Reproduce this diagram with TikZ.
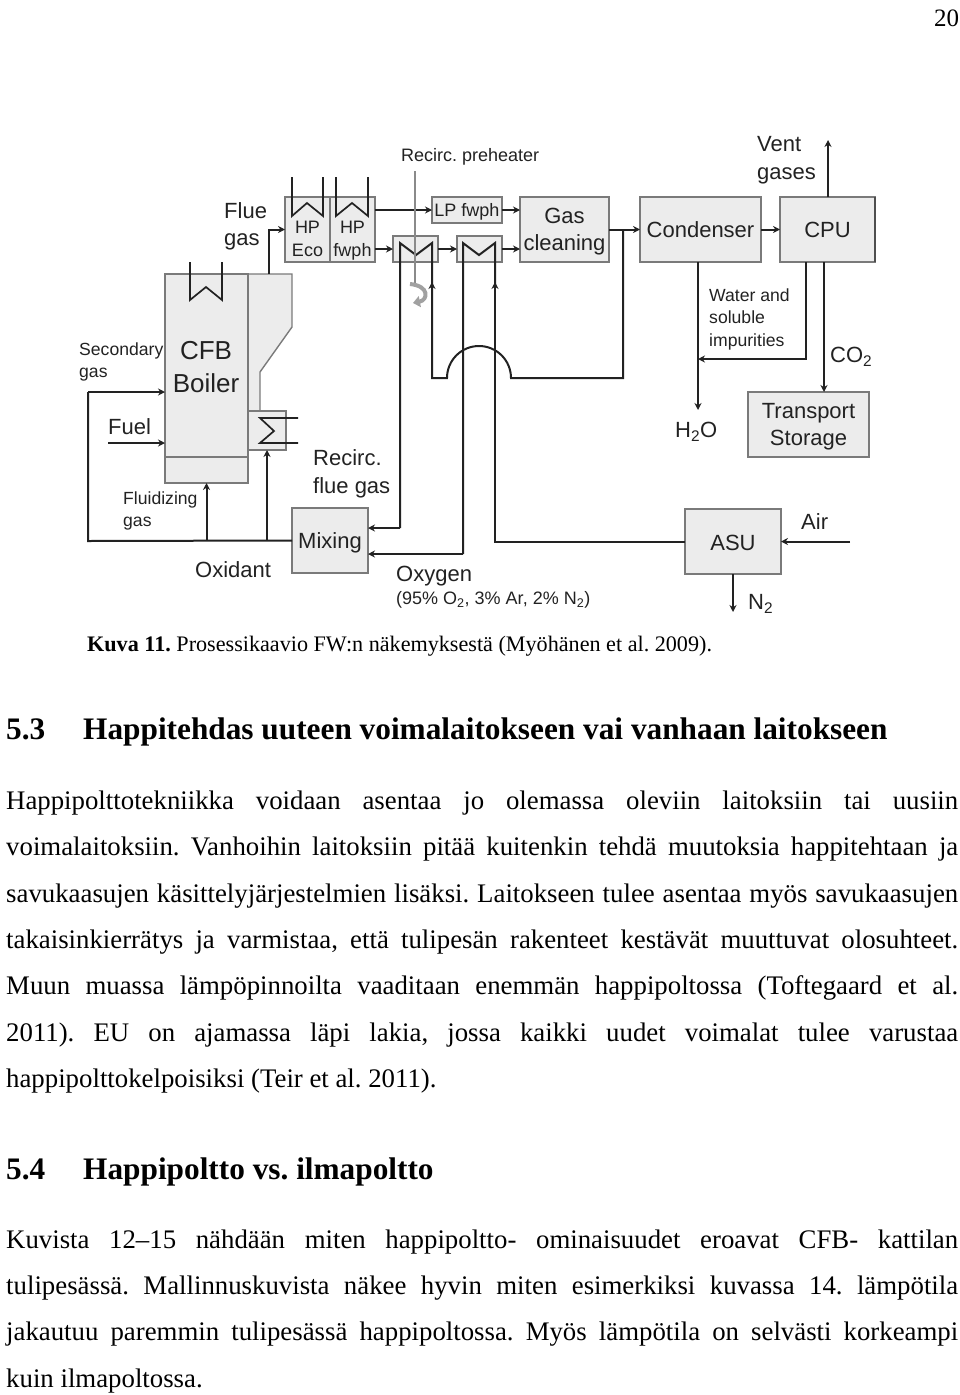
\documentclass[tikz,border=0pt]{standalone}
\usepackage{fontspec}
\setmainfont{Liberation Serif}
\newfontfamily\diagfont{Liberation Sans}
\usepackage{xcolor}
\definecolor{cInk}{HTML}{222222}
\definecolor{cFill}{HTML}{ECECEC}
\definecolor{cEdge}{HTML}{7A7A7A}
\definecolor{cThin}{HTML}{8A8A8A}
\usetikzlibrary{positioning,arrows.meta,calc}
\newcommand{\bodyline}[1]{\hbox to 952pt{#1}}
\frenchspacing
\tikzset{
  node-box/.style={draw=cEdge,line width=1.4pt,fill=cFill,inner sep=0pt,outer sep=0pt,
    align=center,text=cInk,font=\diagfont\fontsize{22}{27}\selectfont},
  label-big/.style={anchor=west,inner sep=0pt,align=left,text=cInk,
    font=\diagfont\fontsize{22}{27.5}\selectfont},
  label-small/.style={anchor=west,inner sep=0pt,align=left,text=cInk,
    font=\diagfont\fontsize{17.6}{22.5}\selectfont},
  label-mid/.style={inner sep=0pt,align=center,text=cInk,
    font=\diagfont\fontsize{22}{27}\selectfont},
  label-hp/.style={inner sep=0pt,align=center,text=cInk,
    font=\diagfont\fontsize{18}{23}\selectfont},
  text-line/.style={anchor=base west,inner sep=0pt,font=\fontsize{26.8}{30}\selectfont},
  text-head/.style={anchor=base west,inner sep=0pt,font=\bfseries\fontsize{31.3}{36}\selectfont},
  pipe/.style={line width=2pt,draw=cInk},
  arrow/.style={-{Stealth[length=7pt,width=7pt]},line width=2pt,draw=cInk},
  coil/.style={line width=1.7pt,draw=cInk},
  thin-line/.style={line width=1.3pt,draw=cThin},
}
\begin{document}
\begin{tikzpicture}[x=1pt,y=-1pt]
  \useasboundingbox (0,0) rectangle (960,1395);
  % furnace and second pass
  \draw[draw=cEdge,line width=1.4pt,fill=cFill] (248,274) -- (292,274) -- (292,327) -- (260,372)
    -- (260,411) -- (248,411) -- cycle;
  \node[node-box,minimum width=83pt,minimum height=209pt] (boiler) at (206.5,378.5) {};
  \draw[draw=cEdge,line width=1.4pt] (165,457) -- (248,457);
  \node[node-box,minimum width=38pt,minimum height=39pt]  (hxbox)  at (267,430.5) {};
  \node[node-box,minimum width=45pt,minimum height=65pt]  (hpeco)  at (307.5,229.5) {};
  \node[node-box,minimum width=45pt,minimum height=65pt]  (hpfwph) at (352.5,229.5) {};
  \node[node-box,minimum width=70pt,minimum height=26pt]  (lpfwph) at (467,210) {};
  \node[node-box,minimum width=45pt,minimum height=26pt]  (rph)    at (415.5,249) {};
  \node[node-box,minimum width=45pt,minimum height=26pt]  (lph)    at (479.5,249) {};
  \node[node-box,minimum width=89pt,minimum height=65pt]  (gascl)  at (564.5,229.5) {};
  \node[node-box,minimum width=121pt,minimum height=65pt] (cond)   at (700.5,229.5) {Condenser};
  \node[node-box,minimum width=95pt,minimum height=65pt]  (cpu)    at (827.5,229.5) {CPU};
  \node[node-box,minimum width=121pt,minimum height=65pt] (store)  at (808.5,424.5) {};
  \node[node-box,minimum width=76pt,minimum height=65pt]  (mixing) at (330,540.5) {};
  \node[node-box,minimum width=96pt,minimum height=65pt]  (asu)    at (733,541.5) {};
  \draw[line width=1.4pt,draw=cInk!80] (cpu.north east) -- (cpu.south east);
  % free ends
  \coordinate (pass-top)   at (269,274);
  \coordinate (feed-a)     at (88,541);
  \coordinate (feed-b)     at (88,392);
  \coordinate (sec-in)     at (165,392);
  \coordinate (fuel-start) at (108,443);
  \coordinate (fuel-in)    at (165,443);
  \coordinate (mix-a)      at (368,528);
  \coordinate (mix-b)      at (368,554);
  \coordinate (air-start)  at (850,541.5);
  \coordinate (n2-end)     at (733,612);
  \coordinate (h2o-end)    at (698,410);
  \coordinate (vent-end)   at (828,140);
  % heat exchanger coils
  \draw[coil] (190,262) -- (190,300) -- (206,287) -- (222,300) -- (222,262);
  \draw[coil] (292,177) -- (292,216) -- (307,203) -- (323,216) -- (323,177);
  \draw[coil] (336,177) -- (336,216) -- (352,203) -- (368,216) -- (368,177);
  \draw[coil] (298,418) -- (260,418) -- (274,431) -- (260,443) -- (298,443);
  % preheater loops
  \draw[pipe] (400,528) -- (400,243) -- (416,255) -- (432,243) -- (432,285);
  \draw[pipe] (463,554) -- (463,243) -- (479,255) -- (495,243) -- (495,285);
  \draw[arrow] (432,292) -- (432,282);
  \draw[arrow] (495,292) -- (495,282);
  \draw[arrow] (400,528) -- (mix-a);
  \draw[arrow] (463,554) -- (mix-b);
  \draw[pipe] (432,285) -- (432,378) -- (447,378) arc[start angle=180,end angle=360,radius=32] -- (623,378)
    -- (623,229.5);
  \draw[pipe] (495,285) -- (495,541.5) -- (asu.west);
  % main gas path
  \draw[arrow] (pass-top) -- (pass-top |- hpeco.west) -- (hpeco.west);
  \draw[arrow] (hpfwph.east |- lpfwph.west) -- (lpfwph.west);
  \draw[arrow] (hpfwph.east |- rph.west) -- (rph.west);
  \draw[arrow] (rph) -- (lph);
  \draw[arrow] (lpfwph.east) -- (lpfwph.east -| gascl.west);
  \draw[arrow] (lph.east) -- (lph.east -| gascl.west);
  \draw[arrow] (gascl) -- (cond);
  \draw[arrow] (cond) -- (cpu);
  \draw[arrow] (cpu.north -| vent-end) -- (vent-end);
  \draw[arrow] (824,262) -- (824,392);
  \draw[arrow] (cond.south -| h2o-end) -- (h2o-end);
  \draw[arrow] (806,262) -- (806,359) -- (698,359);
  \draw[arrow] (air-start) -- (asu.east);
  \draw[arrow] (asu.south) -- (n2-end);
  % oxidant feeds
  \draw[pipe] (mixing.west) -- (feed-a) -- (feed-b);
  \draw[arrow] (feed-b) -- (sec-in);
  \draw[arrow] (fuel-start) -- (fuel-in);
  \draw[arrow] (boiler.south |- mixing.west) -- (boiler.south);
  \draw[arrow] (hxbox.south |- mixing.west) -- (hxbox.south);
  % recirc. preheater feed
  \draw[thin-line] (415,171) -- (415,284);
  \draw[-{Triangle[length=7pt,width=11pt]},line width=4pt,draw=cThin!80] (410,284) .. controls (430,286) and (428,300) .. (413,303);
  % labels
  \node[label-hp] (lbleco) at (307.5,240.5) {HP\\Eco\vphantom{p}};
  \node[label-hp] (lblhpf) at (352.5,240.5) {HP\\fwph};
  \node[label-hp] (lbllp) at (467,211.5) {LP fwph};
  \node[label-mid] (lblgas) at (564.5,231.5) {Gas\\cleaning};
  \node[label-mid] (lblstore) at (808.5,426.5) {Transport\\Storage};
  \node[label-mid] (lblmixing) at (330,543) {Mixing};
  \node[label-mid] (lblasu) at (733,543) {ASU};
  \node[label-big] (lblflue) at (224,226.5) {Flue\\gas};
  \node[label-hp,anchor=west] (lblpre) at (401,157) {Recirc. preheater};
  \node[inner sep=0pt,align=center,text=cInk,font=\diagfont\fontsize{26}{33}\selectfont] (lblcfb) at (206,367) {CFB\\Boiler};
  \node[label-small] (lblsec) at (79,362) {Secondary\\gas};
  \node[label-big] (lblfuel) at (108,427) {Fuel};
  \node[label-small] (lblfluid) at (123,511) {Fluidizing\\gas};
  \node[label-big] (lblrec) at (313,474) {Recirc.\\flue gas};
  \node[label-big] (lbloxi) at (195,570) {Oxidant};
  \node[label-big] (lbloxy) at (396,576) {Oxygen};
  \node[label-hp,anchor=west] (lblmix) at (396,600) {(95\% O\textsubscript{2}, 3\% Ar, 2\% N\textsubscript{2})};
  \node[label-big] (lblvent) at (757,160) {Vent\\gases};
  \node[label-small] (lblwater) at (709,319) {Water and\\soluble\\impurities};
  \node[label-big] (lblco) at (830,357) {CO\textsubscript{2}};
  \node[label-big] (lblhto) at (675,432) {H\textsubscript{2}O};
  \node[label-big] (lblair) at (801,522) {Air};
  \node[label-big] (lblnt) at (748,604) {N\textsubscript{2}};
  % page text
  \node[anchor=base west,inner sep=0pt,font=\fontsize{25}{30}\selectfont] (pageno) at (934,26) {20};
  \node[anchor=base west,inner sep=0pt,font=\fontsize{22.15}{26}\selectfont] (caption) at (87,651)
    {\textbf{Kuva 11.} Prosessikaavio FW:n näkemyksestä (Myöhänen et al. 2009).};
  \node[text-head] (head-a) at (6,739) {5.3};
  \node[text-head] (head-b) at (83,739) {Happitehdas uuteen voimalaitokseen vai vanhaan laitokseen};
  \node[text-line] (line-a) at (6,809)  {\bodyline{Happipolttotekniikka voidaan asentaa jo olemassa oleviin laitoksiin tai uusiin}};
  \node[text-line] (line-b) at (6,855)  {\bodyline{voimalaitoksiin. Vanhoihin laitoksiin pitää kuitenkin tehdä muutoksia happitehtaan ja}};
  \node[text-line] (line-c) at (6,902)  {\bodyline{savukaasujen käsittelyjärjestelmien lisäksi. Laitokseen tulee asentaa myös savukaasujen}};
  \node[text-line] (line-d) at (6,948)  {\bodyline{takaisinkierrätys ja varmistaa, että tulipesän rakenteet kestävät muuttuvat olosuhteet.}};
  \node[text-line] (line-e) at (6,994)  {\bodyline{Muun muassa lämpöpinnoilta vaaditaan enemmän happipoltossa (Toftegaard et al.}};
  \node[text-line] (line-f) at (6,1041) {\bodyline{2011). EU on ajamassa läpi lakia, jossa kaikki uudet voimalat tulee varustaa}};
  \node[text-line] (line-g) at (6,1087) {happipolttokelpoisiksi (Teir et al. 2011).};
  \node[text-head] (head-c) at (6,1179) {5.4};
  \node[text-head] (head-d) at (83,1179) {Happipoltto vs. ilmapoltto};
  \node[text-line] (line-h) at (6,1248) {\bodyline{Kuvista 12--15 nähdään miten happipoltto- ominaisuudet eroavat CFB- kattilan}};
  \node[text-line] (line-i) at (6,1294) {\bodyline{tulipesässä. Mallinnuskuvista näkee hyvin miten esimerkiksi kuvassa 14. lämpötila}};
  \node[text-line] (line-j) at (6,1340) {\bodyline{jakautuu paremmin tulipesässä happipoltossa. Myös lämpötila on selvästi korkeampi}};
  \node[text-line] (line-k) at (6,1387) {kuin ilmapoltossa.};
\end{tikzpicture}
\end{document}
